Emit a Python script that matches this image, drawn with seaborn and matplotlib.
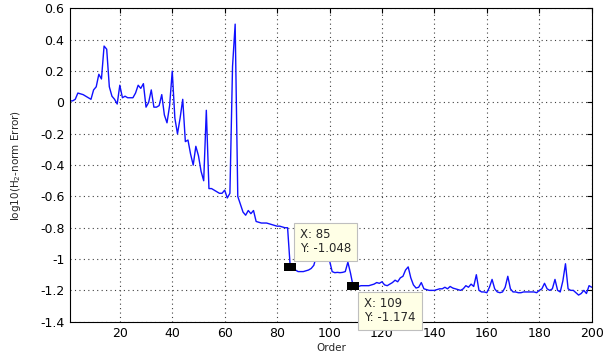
import numpy as np
import pandas as pd
import matplotlib
matplotlib.use("Agg")
import matplotlib.pyplot as plt
import seaborn as sns

# Model order and log10 of the H2-norm reduction error
orders = list(range(1, 201))
log_err = [
    0.01, 0.01, 0.02, 0.06, 0.055, 0.05, 0.04, 0.03, 0.02, 0.08,
    0.10, 0.18, 0.15, 0.36, 0.34, 0.10, 0.04, 0.02, -0.01, 0.11,
    0.03, 0.04, 0.03, 0.03, 0.03, 0.06, 0.11, 0.09, 0.12, -0.03,
    0.00, 0.08, -0.03, -0.03, -0.02, 0.05, -0.08, -0.13, -0.02, 0.20,
    -0.10, -0.20, -0.10, 0.02, -0.25, -0.24, -0.33, -0.40, -0.28, -0.34,
    -0.44, -0.50, -0.05, -0.55, -0.55, -0.56, -0.57, -0.58, -0.58, -0.56,
    -0.61, -0.58, 0.23, 0.50, -0.60, -0.65, -0.70, -0.72, -0.69, -0.71,
    -0.69, -0.76, -0.765, -0.77, -0.77, -0.77, -0.775, -0.78, -0.785, -0.79,
    -0.79, -0.795, -0.80, -0.80, -1.048, -1.06, -1.07, -1.08, -1.08, -1.08,
    -1.075, -1.07, -1.06, -1.04, -0.98, -0.95, -0.90, -0.90, -0.95, -1.01,
    -1.08, -1.087, -1.085, -1.087, -1.085, -1.08, -1.02, -1.09, -1.174, -1.175,
    -1.175, -1.17, -1.17, -1.17, -1.17, -1.165, -1.16, -1.15, -1.155, -1.145,
    -1.165, -1.17, -1.16, -1.15, -1.135, -1.145, -1.12, -1.11, -1.07, -1.05,
    -1.12, -1.165, -1.185, -1.18, -1.15, -1.19, -1.195, -1.20, -1.20, -1.20,
    -1.195, -1.19, -1.19, -1.18, -1.19, -1.175, -1.185, -1.19, -1.195, -1.20,
    -1.19, -1.17, -1.18, -1.16, -1.175, -1.10, -1.20, -1.21, -1.21, -1.215,
    -1.18, -1.13, -1.19, -1.21, -1.215, -1.21, -1.18, -1.11, -1.19, -1.21,
    -1.21, -1.215, -1.215, -1.21, -1.21, -1.21, -1.21, -1.21, -1.215, -1.20,
    -1.19, -1.155, -1.19, -1.20, -1.19, -1.13, -1.20, -1.21, -1.14, -1.03,
    -1.19, -1.20, -1.20, -1.215, -1.23, -1.22, -1.20, -1.22, -1.17, -1.18,
]

# Data tips
tip_x = [85, 109]
tip_y = [-1.048, -1.174]

x_ticks = list(range(20, 201, 20))
y_ticks = [round(v, 1) for v in np.arange(-1.4, 0.61, 0.2)]

sns.set_theme(style="white")
plt.rcParams["font.family"] = ["DejaVu Sans"]
plt.rcParams["mathtext.default"] = "regular"

df = pd.DataFrame({"Order": orders, "err": log_err})

fig = plt.figure(figsize=(6.05, 3.58), dpi=100)
ax = fig.add_axes([0.1157, 0.1014, 0.8623, 0.8749])

sns.lineplot(data=df, x="Order", y="err", ax=ax, color="#1010ff",
             linewidth=1.0, estimator=None)

ax.set_xlim(1, 200)
ax.set_ylim(-1.4, 0.6)
ax.set_xticks(x_ticks)
ax.set_yticks(y_ticks)
ax.set_yticklabels(["0" if abs(v) < 1e-9 else f"{v:g}" for v in y_ticks])

ax.grid(True, linestyle=(0, (1, 3)), color="0.25", linewidth=0.8)
for s in ax.spines.values():
    s.set_visible(True)
    s.set_color("black")
    s.set_linewidth(0.8)
ax.tick_params(direction="in", length=3.5, width=0.8, top=True, right=True,
               labelsize=9, pad=4, colors="black")

ax.set_xlabel("Order", fontsize=7.5, labelpad=2)
ax.set_ylabel("log10(H$_2$-norm Error)", fontsize=7.5, labelpad=12)

# Data tip markers (slightly wide squares) and their labels
wide_square = [(-1.4, -1), (1.4, -1), (1.4, 1), (-1.4, 1), (-1.4, -1)]
ax.scatter(tip_x, tip_y, marker=wide_square, s=70, color="black", zorder=5,
           linewidths=0)
box = dict(boxstyle="square,pad=0.5", facecolor="#ffffe6", edgecolor="0.75",
           linewidth=0.8)
ax.annotate(f"X: {tip_x[0]}\nY: {tip_y[0]}", xy=(tip_x[0], tip_y[0]),
            xytext=(7, 8), textcoords="offset points", ha="left", va="bottom",
            fontsize=8.5, linespacing=1.1, bbox=box, zorder=6)
ax.annotate(f"X: {tip_x[1]}\nY: {tip_y[1]}", xy=(tip_x[1], tip_y[1]),
            xytext=(8, -8), textcoords="offset points", ha="left", va="top",
            fontsize=8.5, linespacing=1.1, bbox=box, zorder=6,
            annotation_clip=False)

fig.savefig("out.png", dpi=100, facecolor="white")
